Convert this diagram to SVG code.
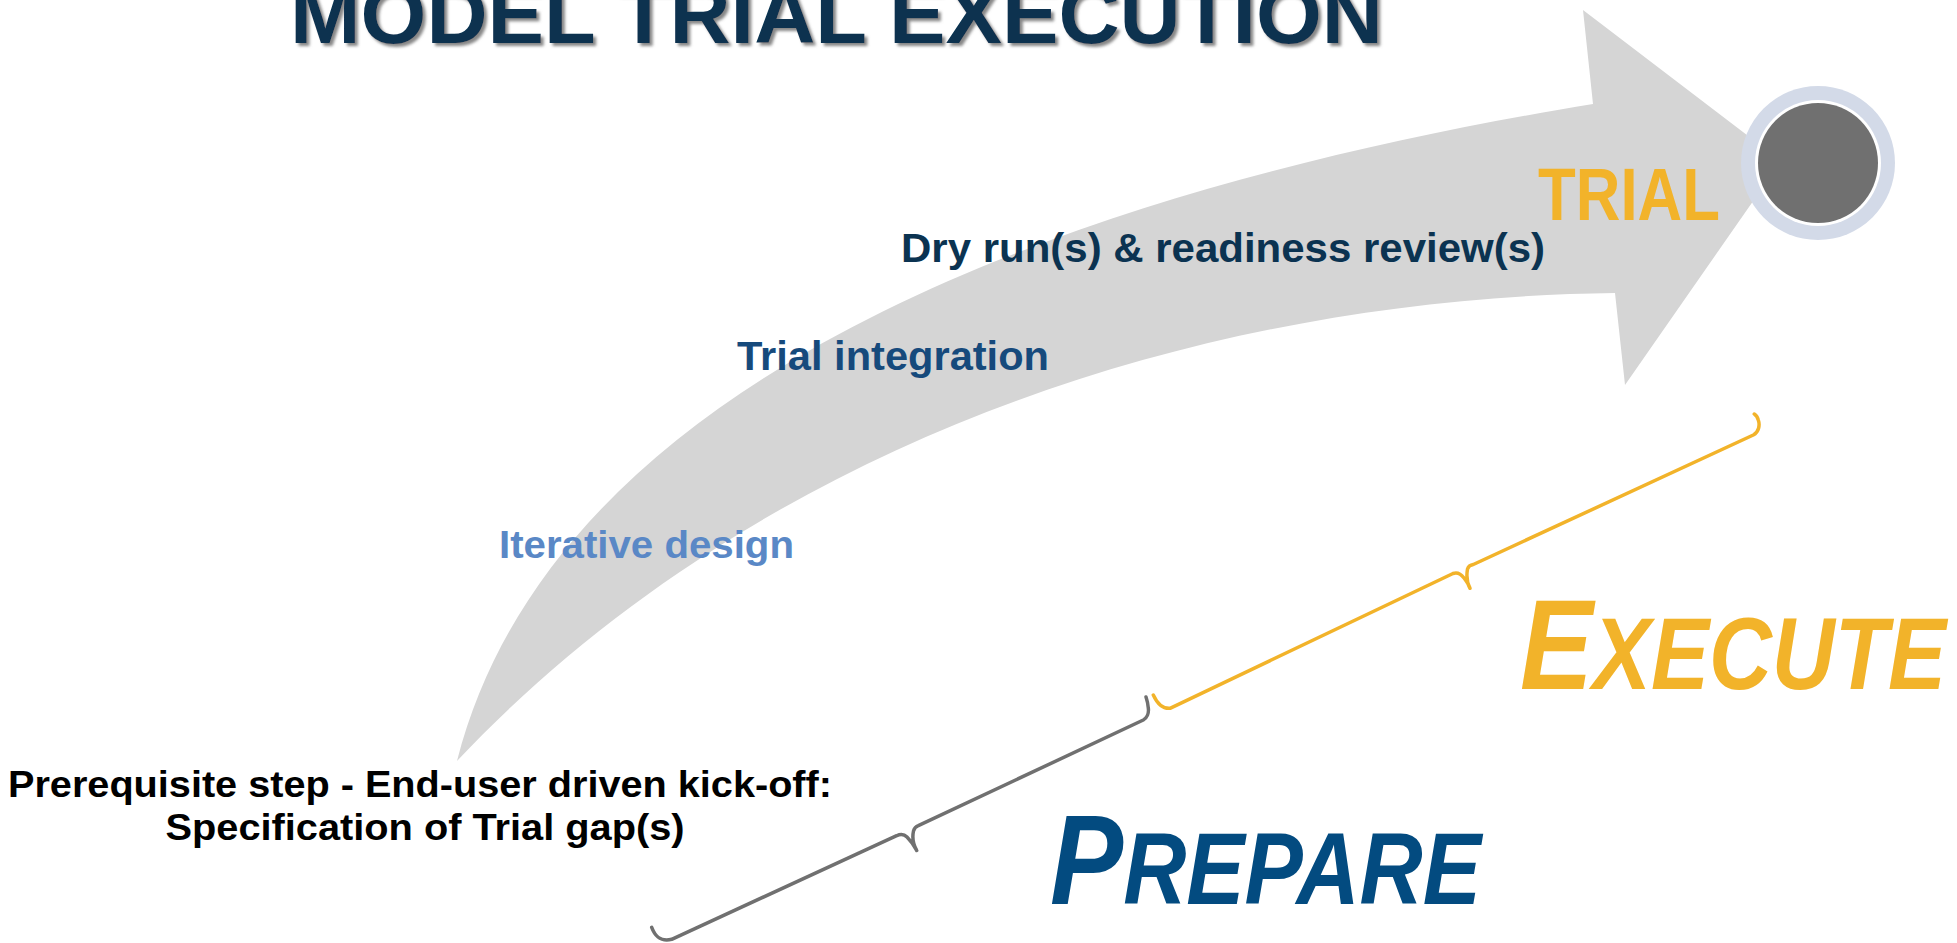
<svg xmlns="http://www.w3.org/2000/svg" width="1957" height="943" viewBox="0 0 1957 943">
<style>
.bold{font-family:"Liberation Sans",Arial,sans-serif;font-weight:bold}
.step{font-size:41px}
.big{font-family:"Liberation Sans",Arial,sans-serif;font-weight:bold;font-style:italic}
.brace{fill:none;stroke-width:3.5;stroke-linecap:round;stroke-linejoin:round}
</style>
<defs>
<filter id="shadow" x="-5%" y="-50%" width="110%" height="200%">
<feDropShadow dx="3" dy="3" stdDeviation="1.5" flood-color="#7a7a7a" flood-opacity="0.9"/>
</filter>
</defs>
<rect width="1957" height="943" fill="#ffffff"/>

<g id="title">
<text x="290" y="43" class="bold" font-size="84" fill="#07304f" textLength="1093" lengthAdjust="spacingAndGlyphs" filter="url(#shadow)">MODEL TRIAL EXECUTION</text>
</g>

<g id="arrow">
<path d="M457,761 C567,328 1199,169 1593,104 L1583,10 L1781,161 L1625,385 L1615,293 C1192,298 752,448 457,761 Z" fill="#d5d5d5"/>
</g>

<g id="trial-node">
<circle cx="1818" cy="163" r="77" fill="#d3dae8"/>
<circle cx="1818" cy="163" r="63" fill="#ffffff"/>
<circle cx="1818" cy="163" r="60" fill="#707070"/>
<text x="1538" y="220" class="bold" font-size="74" fill="#f2b32a" textLength="182" lengthAdjust="spacingAndGlyphs">TRIAL</text>
</g>

<g id="step-dry-run">
<text x="901" y="262" class="bold step" fill="#0b3351" textLength="644" lengthAdjust="spacingAndGlyphs">Dry run(s) &amp; readiness review(s)</text>
</g>
<g id="step-integration">
<text x="737" y="370" class="bold step" fill="#164a7c" textLength="312" lengthAdjust="spacingAndGlyphs">Trial integration</text>
</g>
<g id="step-design">
<text x="499" y="558" class="bold" font-size="39" fill="#5a88c6" textLength="295" lengthAdjust="spacingAndGlyphs">Iterative design</text>
</g>

<g id="prerequisite">
<text class="bold" font-size="36" fill="#000000" text-anchor="middle">
<tspan x="425" y="797" textLength="824" lengthAdjust="spacingAndGlyphs">Prerequisite step - End-user driven kick-off:</tspan>
<tspan x="425" y="840" textLength="519" lengthAdjust="spacingAndGlyphs">Specification of Trial gap(s)</tspan>
</text>
</g>

<g id="braces">
<path class="brace" stroke="#707070" d="M651.7,927.3 C655,936 660,942 671.7,939.3 L896.7,835.7 C900,834 904,834 907,837 C911,841 914,845 916.7,850.5 C913.5,845 912,838 913.5,831 C914.5,827.5 916,826.5 918.3,825.7 L1143.3,720 C1147,718 1149,713 1148.3,708 C1148,703 1147,700 1146,697"/>
<path class="brace" stroke="#f2b32a" d="M1153.3,695 C1157,703 1162,709 1170,708.3 L1453,573.5 C1457,572 1461,574 1464,578 C1467,582 1469,585 1470,588.3 C1467,583 1466.5,575 1467.5,569 C1468.5,566 1470,565 1473.3,564.5 L1753.3,435 C1759,432 1760,425 1758.3,420 C1757.5,417 1756,415 1754.3,414"/>
</g>

<g id="phase-prepare">
<text x="1050" y="904" class="big" fill="#034b80" textLength="431" lengthAdjust="spacingAndGlyphs"><tspan font-size="128">P</tspan><tspan font-size="102">REPARE</tspan></text>
</g>
<g id="phase-execute">
<text x="1520" y="689" class="big" fill="#f2b32a" textLength="426" lengthAdjust="spacingAndGlyphs"><tspan font-size="128">E</tspan><tspan font-size="102">XECUTE</tspan></text>
</g>
</svg>
